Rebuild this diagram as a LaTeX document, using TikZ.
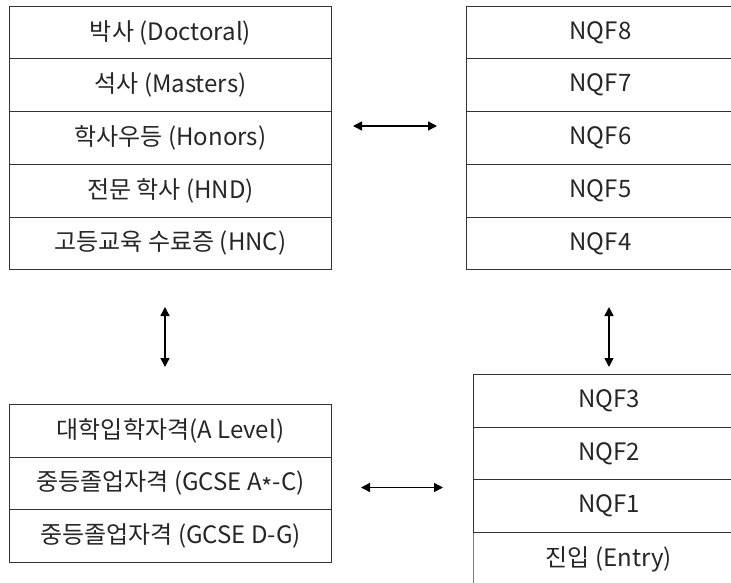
\documentclass[tikz,border=0pt]{standalone}
\usepackage{fontspec}
\setmainfont{Noto Sans CJK KR}
\usetikzlibrary{arrows.meta}
\begin{document}
\begin{tikzpicture}[x=1pt,y=-1pt,
  cell/.style={draw=black!80, line width=0.9pt, inner sep=0pt, anchor=north west,
    minimum height=52.7pt, font=\fontsize{24}{28}\selectfont, text=black!85},
  lcell/.style={cell, minimum width=322pt},
  rcell/.style={cell, minimum width=268pt},
  brcell/.style={cell, minimum width=271pt},
  dbl/.style={line width=1.5pt, {Triangle[length=9pt,width=9pt]}-{Triangle[length=9pt,width=9pt]}}]
\useasboundingbox (0,0) rectangle (731,583);
\clip (0,0) rectangle (731,583);
% top-left
\node[lcell] (d)  at (9,5.7)   {박사 (Doctoral)};
\node[lcell] (m)  at (9,58.4)  {석사 (Masters)};
\node[lcell] (h)  at (9,111.1) {학사우등 (Honors)};
\node[lcell] (hnd) at (9,163.8) {전문 학사 (HND)};
\node[lcell] (hnc) at (9,216.5) {고등교육 수료증 (HNC)};
% top-right
\node[rcell] (n8) at (466,5.7)   {NQF8};
\node[rcell] (n7) at (466,58.4)  {NQF7};
\node[rcell] (n6) at (466,111.1) {NQF6};
\node[rcell] (n5) at (466,163.8) {NQF5};
\node[rcell] (n4) at (466,216.5) {NQF4};
% bottom-left
\node[lcell] (al) at (9,404)   {대학입학자격(A Level)};
\node[lcell] (gac) at (9,456.7) {중등졸업자격 (GCSE A\raisebox{-0.28em}{*}-C)};
\node[lcell] (gdg) at (9,509.4) {중등졸업자격 (GCSE D-G)};
% bottom-right
\node[brcell] (n3) at (473,374)   {NQF3};
\node[brcell] (n2) at (473,426.7) {NQF2};
\node[brcell] (n1) at (473,479.4) {NQF1};
\node[brcell, draw=none] (en) at (473,532.1) {진입 (Entry)};
\draw[draw=black!80, line width=0.9pt] (en.north west) -- (en.south west) -- ++(0,10);
% arrows
\coordinate (a1) at (353,126); \coordinate (b1) at (437,126);
\coordinate (a2) at (165,307); \coordinate (b2) at (165,367);
\coordinate (a3) at (609,307); \coordinate (b3) at (609,367);
\coordinate (a4) at (361,487.5); \coordinate (b4) at (443,487.5);
\draw[dbl] (a1) -- (b1);
\draw[dbl] (a2) -- (b2);
\draw[dbl] (a3) -- (b3);
\draw[dbl] (a4) -- (b4);
\end{tikzpicture}
\end{document}
